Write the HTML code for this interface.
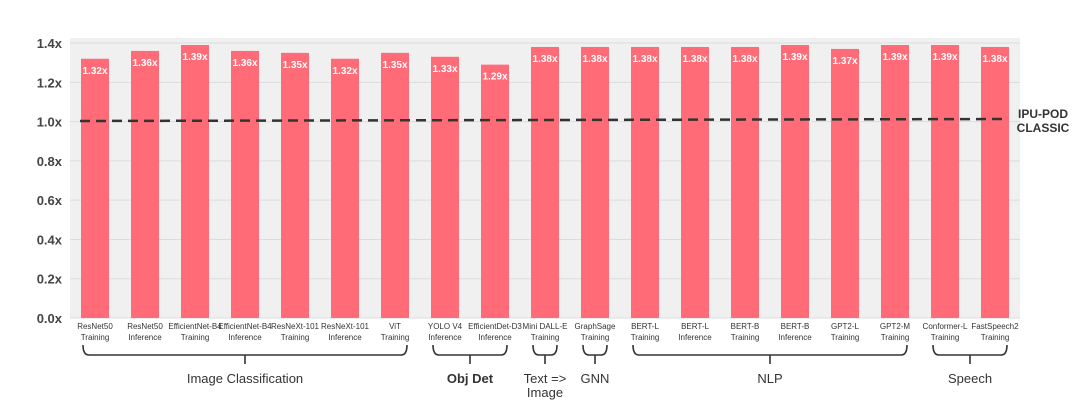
<!DOCTYPE html>
<html><head><meta charset="utf-8"><style>
body{margin:0;background:#fff;}
svg{display:block;font-family:"Liberation Sans",sans-serif;}
</style></head><body>
<svg id="chart" width="1083" height="419" viewBox="0 0 1083 419">
<rect x="70" y="38" width="950" height="280" fill="#f0f0f0"/>
<g id="grid"></g><g id="yticks"></g><g id="bars"></g><g id="xlabels"></g><g id="groups"></g>
<line x1="80" y1="121" x2="1006" y2="119" stroke="#333" stroke-width="2.5" stroke-dasharray="10,6"/>
<text x="1043" y="118" text-anchor="middle" font-size="12" font-weight="bold" fill="#333"><tspan x="1043">IPU-POD</tspan><tspan x="1043" dy="14">CLASSIC</tspan></text>
</svg>
<script>
const categories=[["ResNet50","Training"],["ResNet50","Inference"],["EfficientNet-B4","Training"],["EfficientNet-B4","Inference"],["ResNeXt-101","Training"],["ResNeXt-101","Inference"],["ViT","Training"],["YOLO V4","Inference"],["EfficientDet-D3","Inference"],["Mini DALL-E","Training"],["GraphSage","Training"],["BERT-L","Training"],["BERT-L","Inference"],["BERT-B","Training"],["BERT-B","Inference"],["GPT2-L","Training"],["GPT2-M","Training"],["Conformer-L","Training"],["FastSpeech2","Training"]];
const values=[1.32,1.36,1.39,1.36,1.35,1.32,1.35,1.33,1.29,1.38,1.38,1.38,1.38,1.38,1.39,1.37,1.39,1.39,1.38];
const yTicks=[0,0.2,0.4,0.6,0.8,1.0,1.2,1.4];
const groupNames=[["Image Classification"],["Obj Det"],["Text =>","Image"],["GNN"],["NLP"],["Speech"]];
const groupStart=[0,7,9,10,11,17];
const groupEnd=[6,8,9,10,16,18];
const NS="http://www.w3.org/2000/svg";
const y=v=>318-v*196.4;
const xc=i=>95+50*i;
function mk(tag,attrs,parent,txt){const e=document.createElementNS(NS,tag);for(const k in attrs)e.setAttribute(k,attrs[k]);if(txt!==undefined)e.textContent=txt;document.getElementById(parent).appendChild(e);return e;}
yTicks.forEach(t=>{
 const g=mk('line',{x1:70,x2:1020,y1:y(t),y2:y(t),stroke:'#dcdcdc','stroke-width':1},'grid');
 
 
 const l=mk('text',{x:62,y:y(t)+5,'text-anchor':'end','font-size':13,'font-weight':'bold',fill:'#444'},'yticks',t.toFixed(1)+'x');
 
 
});
values.forEach((v,i)=>{
 const r=mk('rect',{x:xc(i)-14,y:y(v),width:28,height:318-y(v),fill:'#ff6b76'},'bars');
 
 
 const t=mk('text',{x:xc(i),y:y(v)+15,'text-anchor':'middle','font-size':10,'font-weight':'bold',fill:'#fff'},'bars',v.toFixed(2)+'x');
 
 
 categories[i].forEach((s,k)=>{
  const c=mk('text',{x:xc(i),y:329+k*11,'text-anchor':'middle','font-size':8,fill:'#333'},'xlabels',s);
  
  
 });
});
groupNames.forEach((n,g)=>{
 const a=xc(groupStart[g])-12,b=xc(groupEnd[g])+12,m=(a+b)/2;
 const p=mk('path',{d:`M${a},345 Q${a},355 ${a+6},355 L${b-6},355 Q${b},355 ${b},345 M${m},355 L${m},364`,fill:'none',stroke:'#333','stroke-width':1.6},'groups');
 
 
 n.forEach((s,k)=>{
  const t=mk('text',{x:m,y:383+k*14,'text-anchor':'middle','font-size':13,'font-weight':g==1?'bold':'normal',fill:'#333'},'groups',s);
  
  
 });
});
</script>
</body></html>
